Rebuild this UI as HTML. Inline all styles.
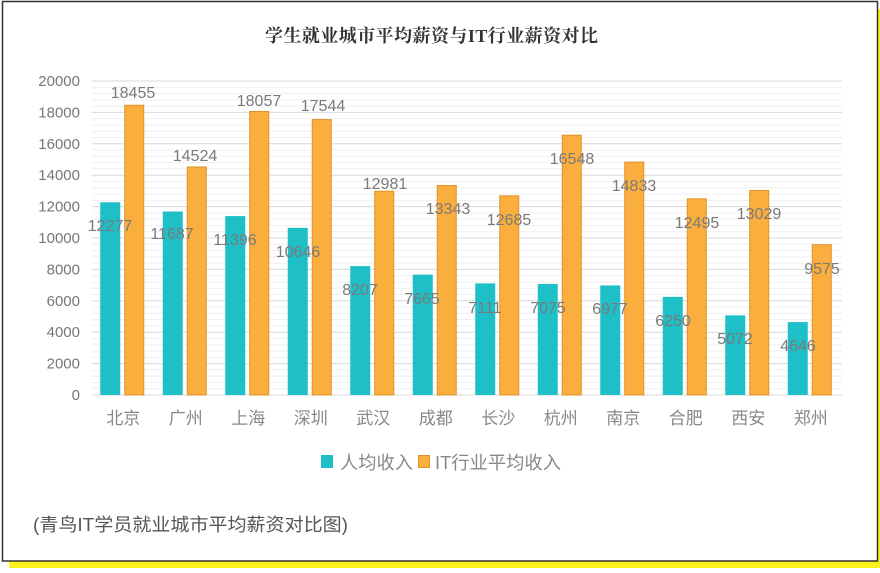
<!DOCTYPE html>
<html><head><meta charset="utf-8"><style>
html,body{margin:0;padding:0;background:#fff;}
body{width:880px;height:568px;overflow:hidden;}
</style></head><body>
<svg width="880" height="568" xmlns="http://www.w3.org/2000/svg" font-family="Liberation Sans, Noto Sans CJK SC, sans-serif">
<rect x="9" y="9" width="871" height="559" fill="#fbf31a"/>
<rect x="2.5" y="1.5" width="875" height="559.5" fill="#fff" stroke="#333" stroke-width="1.5"/>
<text x="265" y="42" font-family="Liberation Serif, Noto Serif CJK SC, serif" font-weight="bold" font-size="18" fill="#333" textLength="333">学生就业城市平均薪资与IT行业薪资对比</text>
<g id="grid"></g>
<g id="bars"></g>
<g font-size="15" fill="#777" text-anchor="end" id="yt"></g>
<g font-size="17" fill="#888" text-anchor="middle" id="xt"></g>
<g font-size="16" fill="#7a7a7a" text-anchor="middle" id="vl"></g>
<rect x="321" y="455" width="12" height="13" fill="#1fbfc8"/>
<text x="340" y="469" font-size="18" fill="#888" textLength="73" lengthAdjust="spacingAndGlyphs">人均收入</text>
<rect x="418.5" y="455.5" width="11" height="12" fill="#f9ae3e" stroke="#e0922a" stroke-width="1"/>
<text x="435" y="469" font-size="18" fill="#888" textLength="126" lengthAdjust="spacingAndGlyphs">IT行业平均收入</text>
<text x="33" y="531" font-size="18" fill="#555" textLength="315" lengthAdjust="spacingAndGlyphs">(青鸟IT学员就业城市平均薪资对比图)</text>
<script>
const NS="http://www.w3.org/2000/svg";
function el(p,t,a,txt){const e=document.createElementNS(NS,t);for(const k in a)e.setAttribute(k,a[k]);if(txt!==undefined)e.textContent=txt;document.getElementById(p).appendChild(e);}
const y0=395,k=314/20000;
for(let v=0;v<=20000;v+=400){const y=y0-v*k;el('grid','line',{x1:92,x2:842,y1:y,y2:y,stroke:v%2000==0?'#d8d8d8':'#efefef','stroke-width':1});}
for(let v=0;v<=20000;v+=2000){el('yt','text',{x:80,y:y0-v*k+5},v);}
const cities=['北京','广州','上海','深圳','武汉','成都','长沙','杭州','南京','合肥','西安','郑州'];
const a=[12277,11687,11396,10646,8207,7665,7111,7075,6977,6250,5072,4646];
const b=[18455,14524,18057,17544,12981,13343,12685,16548,14833,12495,13029,9575];
const la=[[110,225],[172,233],[235,239],[298,251],[360,289],[422,298],[485,307],[548,307],[610,308],[673,320],[735,338],[798,345]];
const lb=[[133,92],[195,155],[259,100],[323,105],[385,183],[448,208],[509,219],[572,158],[634,185],[697,222],[759,213],[822,268]];
for(let i=0;i<12;i++){const c=92+62.5*(i+0.5);
el('bars','rect',{x:c-23,y:y0-a[i]*k,width:20,height:a[i]*k,fill:'#1fbfc8'});
el('bars','rect',{x:c+1.5,y:y0-b[i]*k,width:19,height:b[i]*k,fill:'#f9ae3e',stroke:'#e0922a','stroke-width':1});
el('xt','text',{x:c,y:424},cities[i]);
el('vl','text',{x:la[i][0],y:la[i][1]+6},a[i]);
el('vl','text',{x:lb[i][0],y:lb[i][1]+6},b[i]);}
</script>
</svg>
</body></html>
